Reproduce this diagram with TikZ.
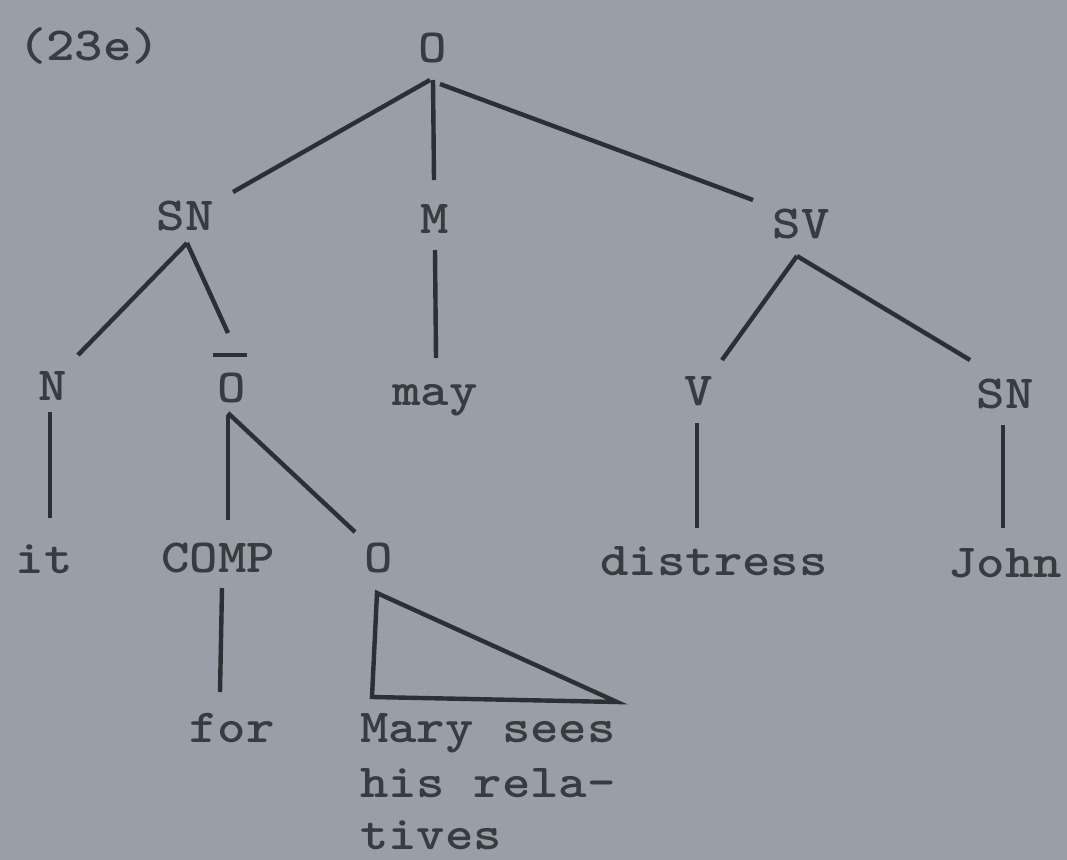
\documentclass[tikz,border=0pt]{standalone}
\usepackage{fontspec}
\usetikzlibrary{calc}
\definecolor{paper}{HTML}{989FA7}
\definecolor{ink}{HTML}{2C2F33}
\definecolor{type}{HTML}{383B3F}
\newcommand\tw[1]{\scalebox{1.14}[1]{#1}}
\begin{document}
\begin{tikzpicture}[x=0.75pt,y=-0.75pt,
  lab/.style={anchor=base,inner sep=0pt,outer sep=0pt,text=type,font=\ttfamily\bfseries\fontsize{35.6}{43}\selectfont},
  labw/.style={lab,anchor=base west},
  br/.style={draw=ink,line width=3.3pt}]
\fill[paper] (0,0) rectangle (1067,860);
\useasboundingbox (0,0) rectangle (1067,860);
% labels
\node[labw] (lbl) at (18,60) {\tw{(23e)}};
\node[lab] (O) at (433,62) {\tw{O}};
\node[lab] (SN) at (185,230) {\tw{SN}};
\node[lab] (M) at (435,233) {\tw{M}};
\node[lab] (SV) at (801,238) {\tw{SV}};
\node[lab] (N) at (53,400) {\tw{N}};
\node[lab] (Ob) at (232,402) {\tw{O}};
\node[lab] (may) at (435,405) {\tw{may}};
\node[lab] (V) at (699,405) {\tw{V}};
\node[lab] (SNb) at (1005,408) {\tw{SN}};
\node[lab] (it) at (44,573) {\tw{it}};
\node[lab] (COMP) at (218,572) {\tw{COMP}};
\node[lab] (Os) at (379,572) {\tw{O}};
\node[lab] (dis) at (714,575) {\tw{distress}};
\node[lab] (John) at (1005,577) {\tw{John}};
\node[lab] (for) at (232,742) {\tw{for}};
\node[labw] (m1) at (360,742) {\tw{Mary sees}};
\node[labw] (m2) at (360,797) {\tw{his rela-}};
\node[labw] (m3) at (360,849) {\tw{tives}};
% bar over O
\draw[br] ($(Ob.base)+(-19,-47)$) -- ($(Ob.base)+(15,-47)$);
% branches
\draw[br] ($(O.base)+(-3,18)$) -- ($(SN.base)+(48,-38)$);
\draw[br] ($(O.base)+(0,18)$) -- ($(M.base)+(-1,-53)$);
\draw[br] ($(O.base)+(7,22)$) -- ($(SV.base)+(-48,-38)$);
\draw[br] ($(SN.base)+(2,13)$) -- ($(N.base)+(25,-45)$);
\draw[br] ($(SN.base)+(2,13)$) -- ($(Ob.base)+(-4,-69)$);
\draw[br] ($(N.base)+(-3,12)$) -- ($(it.base)+(6,-55)$);
\draw[br] ($(Ob.base)+(-4,13)$) -- ($(COMP.base)+(10,-52)$);
\draw[br] ($(Ob.base)+(-4,11)$) -- ($(Os.base)+(-24,-40)$);
\draw[br] ($(M.base)+(0,17)$) -- ($(may.base)+(1,-47)$);
\draw[br] ($(SV.base)+(-4,18)$) -- ($(V.base)+(23,-45)$);
\draw[br] ($(SV.base)+(-4,18)$) -- ($(SNb.base)+(-35,-48)$);
\draw[br] ($(V.base)+(-2,18)$) -- ($(dis.base)+(-17,-47)$);
\draw[br] ($(SNb.base)+(-2,17)$) -- ($(John.base)+(-2,-49)$);
\draw[br] ($(COMP.base)+(4,16)$) -- ($(for.base)+(-12,-50)$);
% triangle
\draw[br,line join=miter] ($(Os.base)+(-2,21)$) -- ($(m1.base west)+(12,-45)$) -- ($(m1.base west)+(257,-40)$) -- cycle;
\end{tikzpicture}
\end{document}
